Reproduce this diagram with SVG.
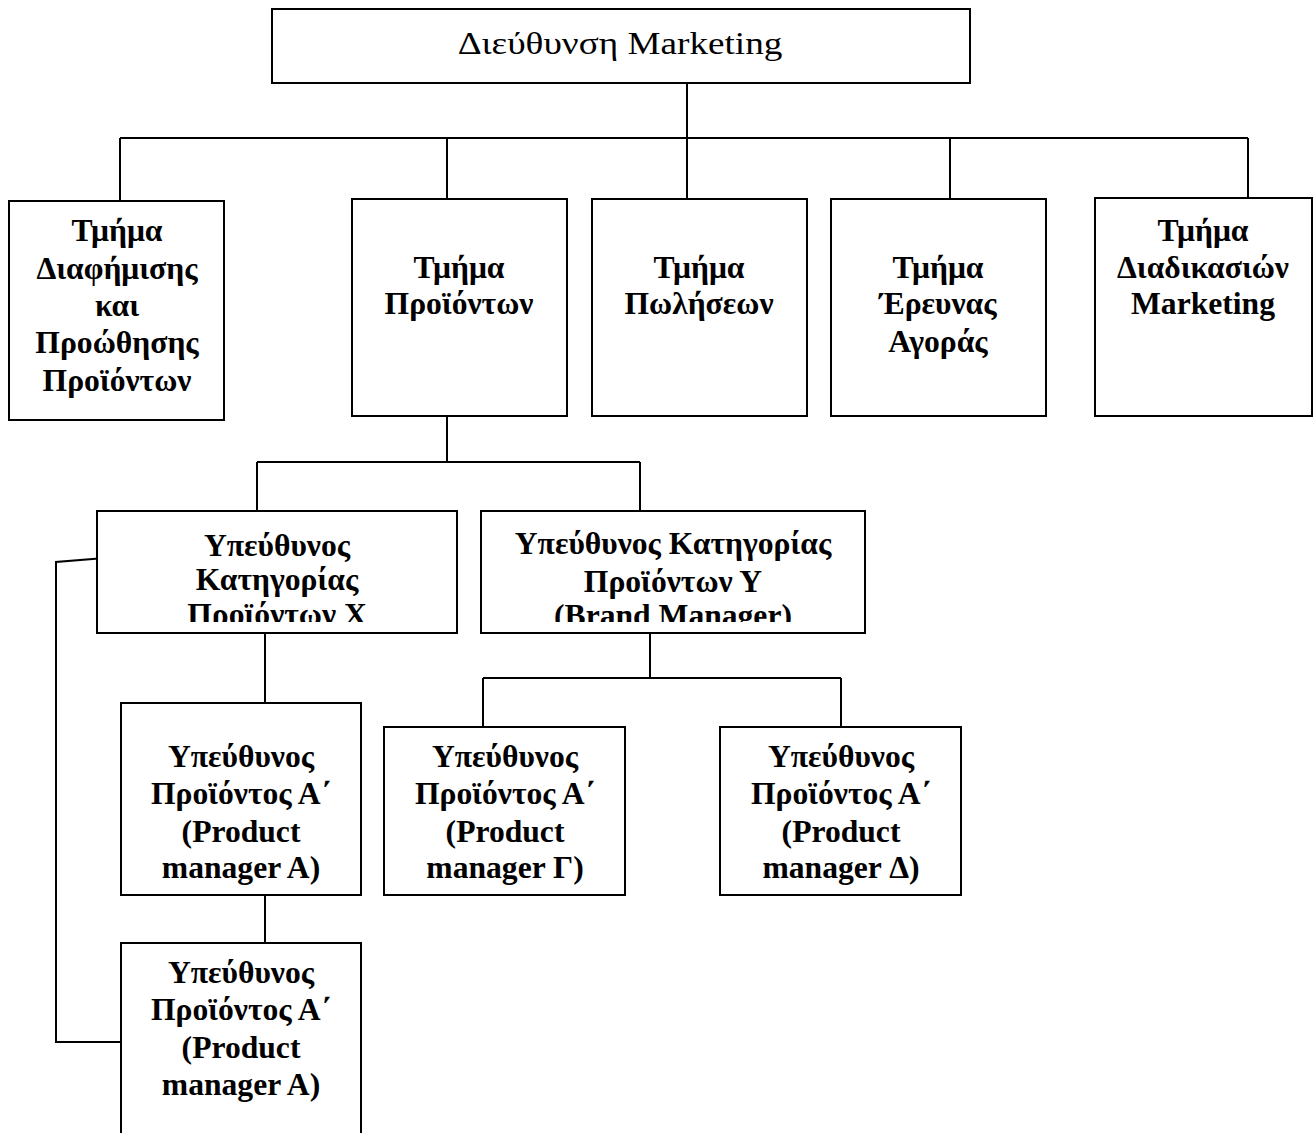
<svg xmlns="http://www.w3.org/2000/svg" width="1315" height="1133" viewBox="0 0 1315 1133">
<style>
.box{fill:#fff;stroke:#000;stroke-width:2}
.ln{fill:none;stroke:#000;stroke-width:2}
.t{font-family:"Liberation Serif","Times New Roman",serif;font-weight:bold;font-size:31px;text-anchor:middle;fill:#000}
.top{font-family:"Liberation Serif","Times New Roman",serif;font-size:31px;text-anchor:middle;fill:#000}
</style>
<defs>
<clipPath id="cx"><rect x="97" y="511" width="360" height="111"/></clipPath>
<clipPath id="cy"><rect x="481" y="511" width="384" height="111"/></clipPath>
</defs>
<rect width="1315" height="1133" fill="#fff"/>
<g id="connectors">
<path class="ln" d="M687 83V138M120 138H1248M120 138V201M447 138V199M687 138V199M950 138V199M1248 138V198"/>
<path class="ln" d="M447 416V462M257 462H640M257 462V511M640 462V511"/>
<path class="ln" d="M265 633V703M265 895V943"/>
<path class="ln" d="M650 633V678M483 678H841M483 678V727M841 678V727"/>
<path class="ln" d="M105 558L56 562V1042H128"/>
</g>
<g id="n-top"><rect class="box" x="272" y="9" width="698" height="74"/>
<g transform="translate(620 0) scale(1.2 1)"><text class="top" x="0" y="54">Διεύθυνση Marketing</text></g></g>
<g id="n-adv"><rect class="box" x="9" y="201" width="215" height="219"/>
<g transform="translate(117 0) scale(1.02 1)"><text class="t" x="0" y="241">Τμήμα</text><text class="t" x="0" y="279">Διαφήμισης</text><text class="t" x="0" y="316">και</text><text class="t" x="0" y="353">Προώθησης</text><text class="t" x="0" y="391">Προϊόντων</text></g></g>
<g id="n-prod"><rect class="box" x="352" y="199" width="215" height="217"/>
<g transform="translate(459 0) scale(1.02 1)"><text class="t" x="0" y="278">Τμήμα</text><text class="t" x="0" y="314">Προϊόντων</text></g></g>
<g id="n-sales"><rect class="box" x="592" y="199" width="215" height="217"/>
<g transform="translate(699 0) scale(1.02 1)"><text class="t" x="0" y="278">Τμήμα</text><text class="t" x="0" y="314">Πωλήσεων</text></g></g>
<g id="n-research"><rect class="box" x="831" y="199" width="215" height="217"/>
<g transform="translate(938 0) scale(1.02 1)"><text class="t" x="0" y="278">Τμήμα</text><text class="t" x="0" y="314">Έρευνας</text><text class="t" x="0" y="352">Αγοράς</text></g></g>
<g id="n-proc"><rect class="box" x="1095" y="198" width="217" height="218"/>
<g transform="translate(1203 0) scale(1.02 1)"><text class="t" x="0" y="241">Τμήμα</text><text class="t" x="0" y="278">Διαδικασιών</text><text class="t" x="0" y="314">Marketing</text></g></g>
<g id="n-catx"><rect class="box" x="97" y="511" width="360" height="122"/>
<g clip-path="url(#cx)"><g transform="translate(277 0) scale(1.02 1)"><text class="t" x="0" y="556">Υπεύθυνος</text><text class="t" x="0" y="590">Κατηγορίας</text><text class="t" x="0" y="625">Προϊόντων Χ</text></g></g></g>
<g id="n-caty"><rect class="box" x="481" y="511" width="384" height="122"/>
<g clip-path="url(#cy)"><g transform="translate(673 0) scale(1.02 1)"><text class="t" x="0" y="554">Υπεύθυνος Κατηγορίας</text><text class="t" x="0" y="592">Προϊόντων Υ</text><text class="t" x="0" y="626">(Brand Manager)</text></g></g></g>
<g id="n-pa1"><rect class="box" x="121" y="703" width="240" height="192"/>
<g transform="translate(241 0) scale(1.02 1)"><text class="t" x="0" y="767">Υπεύθυνος</text><text class="t" x="0" y="804">Προϊόντος Α΄</text><text class="t" x="0" y="842">(Product</text><text class="t" x="0" y="878">manager A)</text></g></g>
<g id="n-pa2"><rect class="box" x="121" y="943" width="240" height="200"/>
<g transform="translate(241 0) scale(1.02 1)"><text class="t" x="0" y="983">Υπεύθυνος</text><text class="t" x="0" y="1020">Προϊόντος Α΄</text><text class="t" x="0" y="1058">(Product</text><text class="t" x="0" y="1095">manager A)</text></g></g>
<g id="n-pg"><rect class="box" x="384" y="727" width="241" height="168"/>
<g transform="translate(505 0) scale(1.02 1)"><text class="t" x="0" y="767">Υπεύθυνος</text><text class="t" x="0" y="804">Προϊόντος Α΄</text><text class="t" x="0" y="842">(Product</text><text class="t" x="0" y="878">manager Γ)</text></g></g>
<g id="n-pd"><rect class="box" x="720" y="727" width="241" height="168"/>
<g transform="translate(841 0) scale(1.02 1)"><text class="t" x="0" y="767">Υπεύθυνος</text><text class="t" x="0" y="804">Προϊόντος Α΄</text><text class="t" x="0" y="842">(Product</text><text class="t" x="0" y="878">manager Δ)</text></g></g>
</svg>
